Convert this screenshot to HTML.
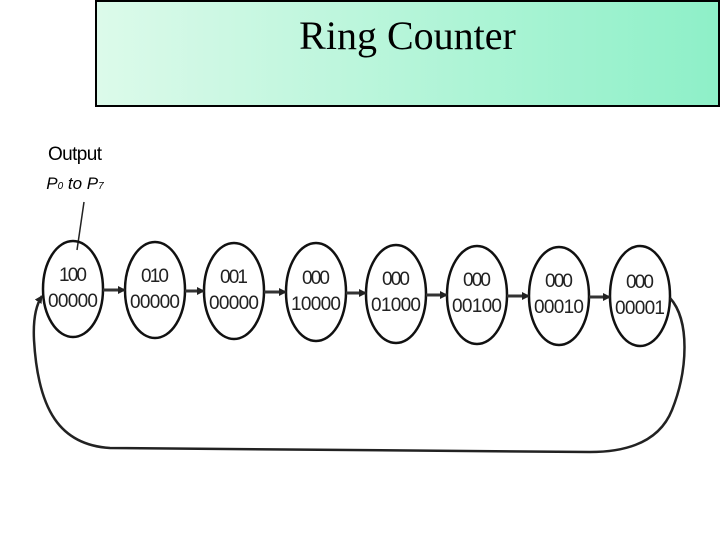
<!DOCTYPE html>
<html><head><style>
body{margin:0;width:720px;height:540px;background:#fff;overflow:hidden;position:relative}
#t{position:absolute;left:95px;top:0;width:621px;height:103px;border:2px solid #000;background:linear-gradient(90deg,#dcfaea,#8ef0c8);}
#t div{font-family:"Liberation Serif",serif;font-size:40px;text-align:center;margin-top:10px;margin-left:0px}
svg{position:absolute;left:0;top:0}
</style></head><body>
<div id="t"><div>Ring Counter</div></div>
<svg width="720" height="540" font-family="Liberation Sans, sans-serif">
<defs><marker id="a" markerWidth="8" markerHeight="8" refX="7" refY="4" orient="auto" markerUnits="userSpaceOnUse"><path d="M0,0L8,4L0,8z" fill="#222"/></marker></defs>
<text x="75" y="160" font-size="19" text-anchor="middle" textLength="54">Output</text>
<text x="75" y="189" font-size="17" text-anchor="middle" font-style="italic">P<tspan font-size="10">0</tspan> to P<tspan font-size="10">7</tspan></text>
<line x1="84" y1="202" x2="77" y2="250" stroke="#222" stroke-width="1.5"/>
<g stroke="#111" stroke-width="2.5" fill="none">
<ellipse cx="73" cy="289" rx="30" ry="48"/>
<ellipse cx="155" cy="290" rx="30" ry="48"/>
<ellipse cx="234" cy="291" rx="30" ry="48"/>
<ellipse cx="316" cy="292" rx="30" ry="49"/>
<ellipse cx="396" cy="294" rx="30" ry="49"/>
<ellipse cx="477" cy="295" rx="30" ry="49"/>
<ellipse cx="559" cy="296" rx="30" ry="49"/>
<ellipse cx="640" cy="296" rx="30" ry="50"/>
</g>
<g stroke="#333" stroke-width="3" marker-end="url(#a)">
<line x1="103" y1="290" x2="125" y2="290"/>
<line x1="185" y1="291" x2="204" y2="291"/>
<line x1="264" y1="292" x2="286" y2="292"/>
<line x1="346" y1="293" x2="366" y2="293"/>
<line x1="426" y1="295" x2="447" y2="295"/>
<line x1="507" y1="296" x2="529" y2="296"/>
<line x1="589" y1="297" x2="610" y2="297"/>
</g>
<path d="M670,298 C690,320 688,370 672,410 C660,440 630,452 590,452 L110,448 C60,445 38,410 34,340 C33,320 36,305 42,296" stroke="#222" stroke-width="2.5" fill="none" marker-end="url(#a)"/>
<g font-size="19" text-anchor="middle" fill="#222">
<text x="73" y="281" textLength="28">100</text><text x="73" y="307" textLength="50">00000</text>
<text x="155" y="282" textLength="28">010</text><text x="155" y="308" textLength="50">00000</text>
<text x="234" y="283" textLength="28">001</text><text x="234" y="309" textLength="50">00000</text>
<text x="316" y="284" textLength="28">000</text><text x="316" y="310" textLength="50">10000</text>
<text x="396" y="285" textLength="28">000</text><text x="396" y="311" textLength="50">01000</text>
<text x="477" y="286" textLength="28">000</text><text x="477" y="312" textLength="50">00100</text>
<text x="559" y="287" textLength="28">000</text><text x="559" y="313" textLength="50">00010</text>
<text x="640" y="288" textLength="28">000</text><text x="640" y="314" textLength="50">00001</text>
</g>
</svg>
</body></html>
